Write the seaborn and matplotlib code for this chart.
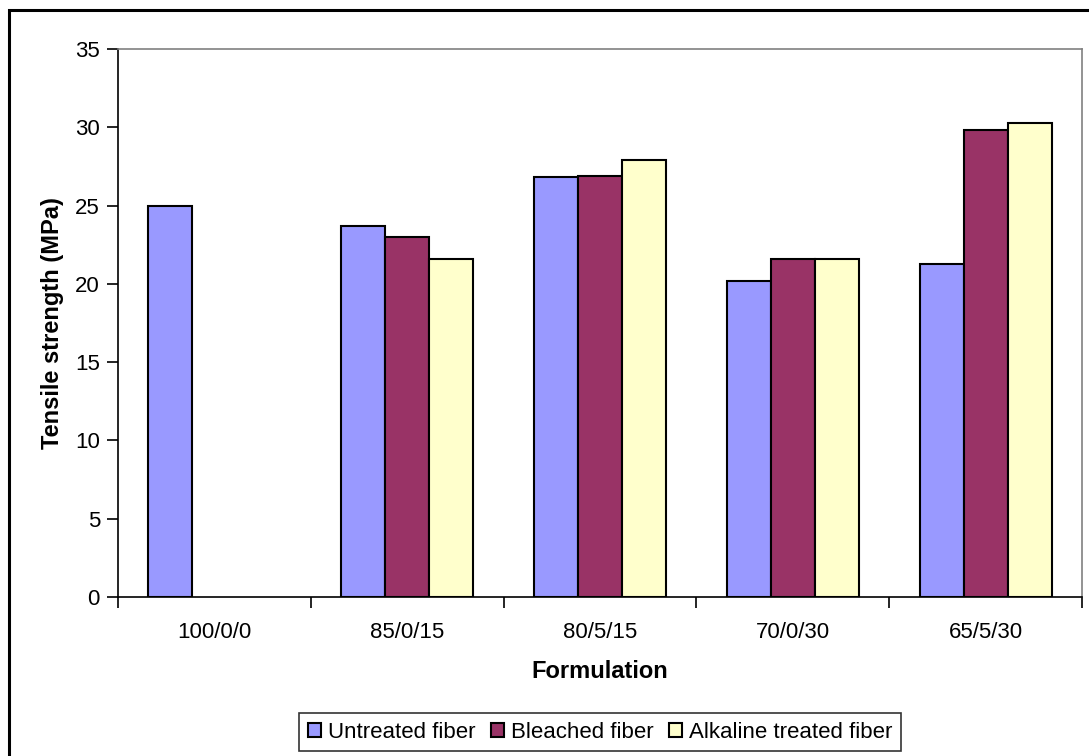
import numpy as np
import pandas as pd
import seaborn as sns
import matplotlib
matplotlib.use("Agg")
import matplotlib.pyplot as plt
from matplotlib.patches import Rectangle

formulations = ["100/0/0", "85/0/15", "80/5/15", "70/0/30", "65/5/30"]
untreated = [25.0, 23.7, 26.8, 20.2, 21.3]
bleached = [np.nan, 23.0, 26.9, 21.6, 29.8]
alkaline = [np.nan, 21.6, 27.9, 21.6, 30.3]
series = ["Untreated fiber", "Bleached fiber", "Alkaline treated fiber"]
colors = ["#9999FF", "#993366", "#FFFFCC"]

sns.set_style("white")
plt.rcParams["font.family"] = ["Liberation Sans", "DejaVu Sans"]
plt.rcParams["text.color"] = "black"
plt.rcParams["axes.labelcolor"] = "black"
plt.rcParams["xtick.color"] = "black"
plt.rcParams["ytick.color"] = "black"

rows = []
for name, vals in zip(series, [untreated, bleached, alkaline]):
    for f, v in zip(formulations, vals):
        if not np.isnan(v):
            rows.append({"Formulation": f, "Fiber": name, "Tensile": v})
df = pd.DataFrame(rows)

fig = plt.figure(figsize=(10.89, 7.56), dpi=100)
ax = fig.add_axes([118 / 1089, 1 - 597 / 756, (1082 - 118) / 1089, (597 - 49) / 756])

sns.barplot(
    data=df,
    x="Formulation",
    y="Tensile",
    hue="Fiber",
    order=formulations,
    hue_order=series,
    palette=colors,
    saturation=1,
    width=0.685,
    edgecolor="black",
    linewidth=1.5,
    errorbar=None,
    ax=ax,
)

ax.set_ylim(0, 35)
ax.set_xlim(-0.5, len(formulations) - 0.5)
ax.set_yticks(range(0, 36, 5))

# labels at the group centres, ticks between groups
ax.set_xticks(np.arange(-0.5, len(formulations), 1))
ax.set_xticklabels([])
ax.set_xticks(range(len(formulations)), minor=True)
ax.set_xticklabels(formulations, minor=True)
ax.tick_params(axis="x", which="minor", length=0, pad=18, labelsize=16)
ax.tick_params(axis="x", which="major", direction="out", length=8, width=1.2, bottom=True)
ax.tick_params(axis="y", direction="out", length=8, width=1.2, left=True, labelsize=16, pad=5)

for side in ["left", "bottom"]:
    ax.spines[side].set_color("black")
    ax.spines[side].set_linewidth(1.2)
for side in ["top", "right"]:
    ax.spines[side].set_color("#808080")
    ax.spines[side].set_linewidth(1.2)

ax.set_xlabel("Formulation", fontsize=17, fontweight="bold", labelpad=12)
ax.set_ylabel("Tensile strength (MPa)", fontsize=17, fontweight="bold", labelpad=8)

handles, labels = ax.get_legend_handles_labels()
ax.get_legend().remove()
leg = fig.legend(
    handles, labels,
    loc="center",
    bbox_to_anchor=(600 / 1089, 1 - 732 / 756),
    ncol=3,
    frameon=True,
    fancybox=False,
    fontsize=16,
    handlelength=0.6,
    handleheight=0.6,
    handletextpad=0.3,
    columnspacing=0.7,
    borderpad=0.4,
)
leg.get_frame().set_edgecolor("black")
leg.get_frame().set_linewidth(1.2)

# outer chart border (cut off at right and bottom)
fig.patches.append(Rectangle((9 / 1089, -0.05), 1.1, 1 - 10 / 756 + 0.05,
                             transform=fig.transFigure, fill=False,
                             edgecolor="black", linewidth=2.2))

fig.savefig("out.png", dpi=100)
